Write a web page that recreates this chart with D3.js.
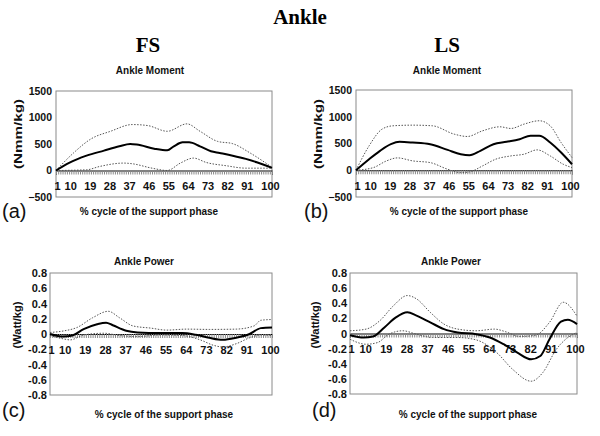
<!DOCTYPE html>
<html><head><meta charset="utf-8">
<script src="https://cdn.jsdelivr.net/npm/d3@7"></script>
<style>
body{margin:0;background:#fff;}
svg{display:block;}
text{font-family:"Liberation Sans",Arial,sans-serif;}
</style>
</head><body>
<svg id="chart" width="600" height="436"></svg>
<script>
// ---- categories / ticks ----
const categories = d3.range(1, 101);
const xTickLabels = [1, 10, 19, 28, 37, 46, 55, 64, 73, 82, 91, 100];
const momentTicks = [-500, 0, 500, 1000, 1500];
const powerTicks = [-0.8, -0.6, -0.4, -0.2, 0, 0.2, 0.4, 0.6, 0.8];

// ---- FS ankle moment (Nmm/kg): [% cycle, value] ----
const fsMomentMean = [[1,0],[7,144],[15,280],[23,375],[30,456],[35,500],[38,490],[46,412],[52,380],[55,456],[59,531],[62,531],[67,456],[72,362],[76,330],[82,280],[88,220],[93,156],[100,50]];
const fsMomentUpper = [[1,0],[9,330],[17,595],[26,740],[36,867],[43,848],[52,740],[61,880],[67,740],[75,550],[82,506],[90,330],[100,60]];
const fsMomentLower = [[1,0],[15,13],[21,76],[32,140],[36,127],[45,44],[52,0],[58,140],[64,234],[70,150],[79,90],[88,44],[100,44]];

// ---- LS ankle moment ----
const lsMomentMean = [[1,0],[7,206],[12,362],[17,487],[21,531],[27,518],[35,487],[43,380],[49,300],[53,281],[58,362],[64,487],[70,531],[76,581],[81,643],[85,643],[90,518],[95,331],[100,112]];
const lsMomentUpper = [[1,0],[7,456],[13,770],[18,831],[27,843],[36,831],[46,675],[52,631],[59,737],[67,812],[72,781],[78,862],[85,925],[90,831],[95,518],[100,237]];
const lsMomentLower = [[1,0],[9,50],[15,175],[20,231],[27,175],[35,143],[43,19],[49,-44],[53,-31],[59,81],[65,206],[72,268],[78,300],[84,381],[90,268],[96,112],[100,50]];

// ---- FS ankle power (Watt/kg) ----
const fsPowerMean = [[1,0],[7,-0.034],[11,-0.02],[16,0.064],[22,0.128],[26,0.149],[29,0.115],[35,0.043],[40,0.021],[50,0.013],[60,0.013],[66,-0.01],[72,-0.05],[78,-0.077],[84,-0.05],[90,0],[95,0.077],[100,0.085]];
const fsPowerUpper = [[1,0.02],[7,0.04],[13,0.085],[20,0.213],[27,0.298],[32,0.213],[38,0.106],[46,0.077],[53,0.051],[62,0.064],[72,0.06],[84,0.064],[92,0.106],[95,0.18],[100,0.19]];
const fsPowerLower = [[1,-0.02],[7,-0.064],[10,-0.077],[16,-0.013],[25,0.01],[32,-0.02],[40,-0.034],[50,-0.013],[60,-0.02],[68,-0.077],[74,-0.149],[78,-0.17],[84,-0.128],[90,-0.05],[95,-0.013],[100,-0.02]];

// ---- LS ankle power ----
const lsPowerMean = [[1,-0.022],[7,-0.053],[11,-0.04],[16,0.08],[21,0.213],[26,0.28],[30,0.236],[36,0.147],[42,0.058],[48,0.013],[56,-0.009],[62,-0.053],[68,-0.142],[74,-0.253],[80,-0.342],[84,-0.298],[88,-0.076],[93,0.156],[96,0.182],[100,0.124]];
const lsPowerUpper = [[1,0.036],[8,0.058],[14,0.169],[20,0.369],[26,0.502],[30,0.458],[36,0.28],[42,0.124],[48,0.058],[56,0.036],[64,0.058],[69,0.022],[75,-0.04],[82,-0.022],[88,0.147],[94,0.413],[100,0.23]];
const lsPowerLower = [[1,-0.076],[8,-0.142],[13,-0.12],[18,-0.009],[24,0.036],[30,-0.009],[37,-0.053],[48,-0.053],[56,-0.084],[65,-0.253],[72,-0.476],[80,-0.631],[85,-0.52],[91,-0.209],[96,-0.053],[100,0.013]];

const svg = d3.select("#chart");

// headings
svg.append("text").attr("x",300).attr("y",24).attr("text-anchor","middle")
  .style("font-family","'Liberation Serif','Times New Roman',serif").style("font-weight","bold").style("font-size","21px").text("Ankle");
svg.append("text").attr("x",148).attr("y",52).attr("text-anchor","middle")
  .style("font-family","'Liberation Serif','Times New Roman',serif").style("font-weight","bold").style("font-size","21px").text("FS");
svg.append("text").attr("x",447).attr("y",52).attr("text-anchor","middle")
  .style("font-family","'Liberation Serif','Times New Roman',serif").style("font-weight","bold").style("font-size","21px").text("LS");

function fmtPower(v){ if (Math.abs(v) < 1e-9) return "0"; return (v<0?"-":"") + Math.abs(v).toFixed(1); }

function panel(cfg){
  const w = cfg.right - cfg.left, h = cfg.bottom - cfg.top;
  const x = d3.scaleLinear().domain([1,100]).range([0,w]);
  const y = d3.scaleLinear().domain(cfg.domain).range([h,0]);
  const g = svg.append("g").attr("transform",`translate(${cfg.left},${cfg.top})`);

  // frame
  g.append("rect").attr("x",0).attr("y",0).attr("width",w).attr("height",h)
    .attr("fill","none").attr("stroke","#8a8a8a").attr("stroke-width",1);

  // y axis labels
  const ya = g.append("g").call(d3.axisLeft(y).tickValues(cfg.ticks).tickSize(0).tickPadding(cfg.yPad).tickFormat(cfg.fmt));
  ya.select(".domain").remove();
  ya.selectAll("text").style("font-size",cfg.yFont+"px").style("font-weight","bold").attr("fill","#111");

  // hatched category ticks along zero line
  const hatch = g.append("g").attr("transform",`translate(0,${y(0)})`)
    .call(d3.axisBottom(x).tickValues(categories).tickSize(4).tickFormat(""));
  hatch.select(".domain").attr("stroke","#000").attr("stroke-width",1);
  hatch.selectAll(".tick line").attr("stroke","#888").attr("stroke-width",1);

  // x labels
  const xa = g.append("g").attr("transform",`translate(0,${y(0)})`)
    .call(d3.axisBottom(x).tickValues(xTickLabels).tickSize(0).tickPadding(12));
  xa.select(".domain").remove();
  xa.selectAll("text").style("font-size","11px").style("font-weight","bold").attr("fill","#111")
    .attr("dx", d => d===1 ? 1 : (d===100 ? -2 : -5.5));

  const line = d3.line().x(d=>x(d[0])).y(d=>y(d[1])).curve(d3.curveMonotoneX);
  [cfg.upper, cfg.lower].forEach(s=>{
    g.append("path").datum(s).attr("d",line).attr("fill","none")
      .attr("stroke","#555").attr("stroke-width",1).attr("stroke-dasharray","1.5,1.5");
  });
  g.append("path").datum(cfg.mean).attr("d",line).attr("fill","none")
    .attr("stroke","#000").attr("stroke-width",2);

  // chart title
  svg.append("text").attr("x",cfg.titleX).attr("y",cfg.titleY).attr("text-anchor","middle")
    .style("font-size","10px").style("font-weight","bold").attr("fill","#111").text(cfg.title);
  // y title
  svg.append("text").attr("transform",`translate(${cfg.ylabX},${cfg.ylabY}) rotate(-90)`)
    .attr("text-anchor","middle").attr("dominant-baseline","central")
    .attr("textLength",cfg.ylabLen).attr("lengthAdjust","spacingAndGlyphs")
    .style("font-size","11px").style("font-weight","bold").attr("fill","#111").text(cfg.ylab);
  // x title
  svg.append("text").attr("x",cfg.xlabX).attr("y",cfg.xlabY).attr("text-anchor","middle")
    .style("font-size","10px").style("font-weight","bold").attr("fill","#111").text("% cycle of the support phase");
  // panel letter
  svg.append("text").attr("x",cfg.letX).attr("y",cfg.letY)
    .style("font-size","20px").attr("fill","#111").text(cfg.letter);
}

panel({left:56,right:272,top:91,bottom:197,domain:[-500,1500],ticks:momentTicks,fmt:d3.format("d"),yPad:4,yFont:10.5,
  mean:fsMomentMean,upper:fsMomentUpper,lower:fsMomentLower,title:"Ankle Moment",titleX:150,titleY:74,
  ylab:"(Nmm/kg)",ylabX:18,ylabY:134,ylabLen:70,xlabX:149,xlabY:215,letter:"(a)",letX:2,letY:218});
panel({left:356,right:572,top:90,bottom:197,domain:[-500,1500],ticks:momentTicks,fmt:d3.format("d"),yPad:4,yFont:10.5,
  mean:lsMomentMean,upper:lsMomentUpper,lower:lsMomentLower,title:"Ankle Moment",titleX:447,titleY:74,
  ylab:"(Nmm/kg)",ylabX:318,ylabY:134,ylabLen:70,xlabX:459,xlabY:215,letter:"(b)",letX:304,letY:218});
panel({left:50,right:272,top:273,bottom:395,domain:[-0.8,0.8],ticks:powerTicks,fmt:fmtPower,yPad:3,yFont:11,
  mean:fsPowerMean,upper:fsPowerUpper,lower:fsPowerLower,title:"Ankle Power",titleX:144,titleY:265,
  ylab:"(Watt/kg)",ylabX:17,ylabY:325,ylabLen:47,xlabX:164,xlabY:418,letter:"(c)",letX:2,letY:417});
panel({left:350,right:577,top:273,bottom:394,domain:[-0.8,0.8],ticks:powerTicks,fmt:fmtPower,yPad:3,yFont:11,
  mean:lsPowerMean,upper:lsPowerUpper,lower:lsPowerLower,title:"Ankle Power",titleX:451,titleY:265,
  ylab:"(Watt/kg)",ylabX:315,ylabY:325,ylabLen:47,xlabX:468,xlabY:418,letter:"(d)",letX:312,letY:417});
</script>
</body></html>
